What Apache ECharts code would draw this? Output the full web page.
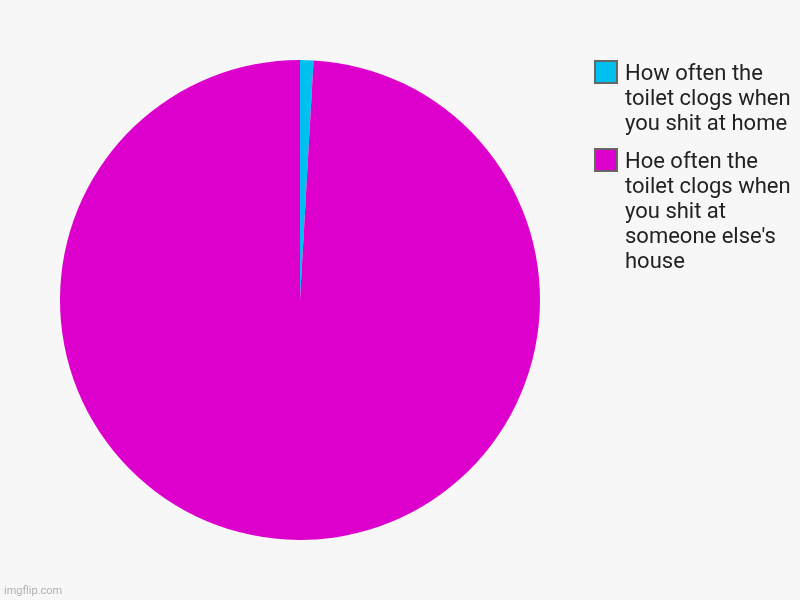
<!DOCTYPE html>
<html>
<head>
<meta charset="utf-8">
<script src="https://cdn.jsdelivr.net/npm/echarts@6/dist/echarts.min.js"></script>
<style>
  html, body { margin: 0; padding: 0; background: #f7f7f7; }
  #chart { width: 800px; height: 600px; }
</style>
</head>
<body>
<div id="chart"></div>
<script>
// data
var names = [
  'How often the toilet clogs when you shit at home',
  "Hoe often the toilet clogs when you shit at someone else's house"
];
var values = [0.9, 99.1];
var colors = ['#00c0f0', '#dd00cc'];
// legend text as wrapped in the picture
var legendLines = [
  ['How often the', 'toilet clogs when', 'you shit at home'],
  ['Hoe often the', 'toilet clogs when', 'you shit at', "someone else's", 'house']
];

var pieData = [];
for (var i = 0; i < names.length; i++) {
  pieData.push({ name: names[i], value: values[i], itemStyle: { color: colors[i] } });
}

// legend drawn by hand so the box sits on the first line
var legendItems = [];
var legendY = 60;
for (var i = 0; i < legendLines.length; i++) {
  legendItems.push({
    type: 'rect',
    shape: { x: 595, y: legendY + 1, width: 22, height: 22 },
    style: { fill: colors[i], stroke: '#666', lineWidth: 2 }
  });
  legendItems.push({
    type: 'text',
    x: 625,
    y: legendY + 2,
    style: {
      text: legendLines[i].join('\n'),
      font: '22px Roboto',
      fill: '#222',
      lineHeight: 25,
      verticalAlign: 'top'
    }
  });
  legendY += legendLines[i].length * 25 + 13;
}
legendItems.push({
  type: 'text',
  x: 4,
  y: 591,
  style: { text: 'imgflip.com', font: '11px Roboto', fill: '#b0b0b0', verticalAlign: 'middle' }
});

var myChart = echarts.init(document.getElementById('chart'));

var option = {
  backgroundColor: '#f7f7f7',
  animation: false,
  graphic: legendItems,
  series: [
    {
      type: 'pie',
      center: [300, 300],
      radius: 240,
      startAngle: 90,
      clockwise: true,
      label: { show: false },
      labelLine: { show: false },
      emphasis: { disabled: true },
      itemStyle: { borderWidth: 0 },
      data: pieData
    }
  ]
};
myChart.setOption(option);
</script>
</body>
</html>
